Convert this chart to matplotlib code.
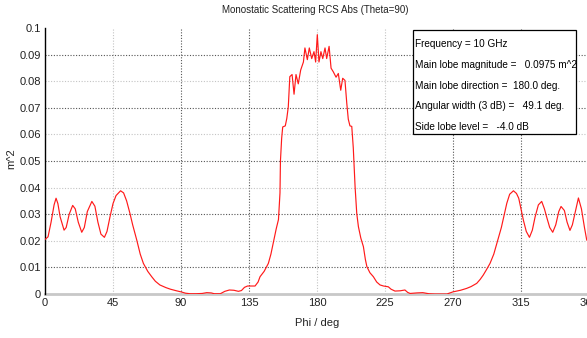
import matplotlib
matplotlib.use('Agg')
import matplotlib.pyplot as plt
from matplotlib.ticker import FuncFormatter

# RCS Abs (Theta=90), phi in deg, value in m^2
phi = [0, 2, 4, 6, 7.3, 8.5, 10, 12.6, 14, 16, 18.3, 20, 22, 24.3, 26, 28, 31, 33, 35, 37,
       39.3, 41, 43, 45, 47, 50, 52, 54, 56.2, 58, 60.7, 63, 65.1, 68, 70.6, 73, 76, 80, 83, 87,
       90, 93, 96, 100, 104, 107, 110, 112, 116, 119, 122, 125, 128, 130, 132, 134, 137, 139, 141, 142.3,
       145, 147.8, 149.5, 151, 153, 154.5, 155.5, 155.8, 156.6, 157.3, 159, 160, 161, 162, 163.5, 164.8, 166.1, 167.6, 169.2, 171,
       172, 173.6, 174.9, 176.5, 178, 179.1, 180.2, 181.3, 182.6, 183.8, 185.3, 186.4, 188, 189.3, 190.8, 192.6, 194.1, 195.7, 197, 198.5,
       199.7, 200.7, 201.8, 203, 204, 205.2, 206.3, 207.4, 209, 210.7, 212, 213, 215, 217.3, 219.5, 221.7, 224, 227.2, 229, 231.6,
       235, 238.2, 240, 241.6, 246, 250, 254, 258, 262, 266, 270, 275, 279, 282, 285.7, 288, 290, 292, 294.5, 297,
       299, 302, 304, 305.6, 307.5, 310, 312, 313.5, 315, 316.6, 318.5, 320.6, 322.5, 324.3, 326.5, 328.7, 330.5, 332, 334, 336,
       338, 340, 341.5, 343.7, 345.5, 347.4, 349, 351, 353, 355, 357, 358.5, 360]
rcs = [0.0205, 0.0215, 0.027, 0.0335, 0.036, 0.034, 0.029, 0.024, 0.025, 0.030, 0.0333, 0.032, 0.027, 0.0232, 0.025, 0.031, 0.0348, 0.033, 0.027, 0.0225,
       0.0213, 0.0235, 0.029, 0.034, 0.037, 0.0388, 0.038, 0.035, 0.0303, 0.026, 0.0203, 0.015, 0.0115, 0.0085, 0.0065, 0.0048, 0.0034, 0.0024, 0.0018, 0.0012,
       0.0008, 0.0003, 0.0001, 0.0001, 0.0002, 0.0005, 0.0004, 0.0001, 0.0001, 0.001, 0.0015, 0.0014, 0.001, 0.0013, 0.0025, 0.003, 0.003, 0.003, 0.0045, 0.0065,
       0.0085, 0.0115, 0.015, 0.019, 0.0245, 0.028, 0.038, 0.05, 0.0585, 0.0628, 0.0632, 0.066, 0.0704, 0.0817, 0.0825, 0.0751, 0.0825, 0.079, 0.0842, 0.0872,
       0.0925, 0.0881, 0.0925, 0.0885, 0.0911, 0.0872, 0.0975, 0.0872, 0.0911, 0.0885, 0.0925, 0.0885, 0.0931, 0.0849, 0.0835, 0.0815, 0.0829, 0.0766, 0.0811, 0.0803,
       0.0717, 0.0657, 0.0632, 0.063, 0.055, 0.0403, 0.0303, 0.0253, 0.021, 0.0178, 0.013, 0.0103, 0.008, 0.0065, 0.0045, 0.0034, 0.003, 0.0027, 0.0018, 0.0011,
       0.0012, 0.0015, 0.0006, 0.0002, 0.0004, 0.0005, 0.0001, 0.0, 0.0, 0.0, 0.0008, 0.0014, 0.0021, 0.0028, 0.004, 0.0055, 0.0071, 0.009, 0.0115, 0.015,
       0.019, 0.025, 0.030, 0.0341, 0.0375, 0.0388, 0.0378, 0.036, 0.032, 0.0277, 0.0235, 0.0213, 0.024, 0.0289, 0.0335, 0.0348, 0.032, 0.0289, 0.025, 0.0232,
       0.026, 0.031, 0.0329, 0.0314, 0.027, 0.0239, 0.026, 0.031, 0.0361, 0.032, 0.025, 0.0203, 0.0195]

x_ticks = [0, 45, 90, 135, 180, 225, 270, 315, 360]
y_ticks = [0, 0.01, 0.02, 0.03, 0.04, 0.05, 0.06, 0.07, 0.08, 0.09, 0.1]
x_dark = [90, 135, 270, 315]
x_light = [45, 180, 225]
y_dark = [0.01, 0.03, 0.05, 0.07, 0.09]
y_light = [0.02, 0.04, 0.06, 0.08]

info = ['Frequency = 10 GHz',
        'Main lobe magnitude =   0.0975 m^2',
        'Main lobe direction =  180.0 deg.',
        'Angular width (3 dB) =   49.1 deg.',
        'Side lobe level =   -4.0 dB']

plt.rcParams['font.family'] = ['Liberation Sans', 'DejaVu Sans']

fig = plt.figure(figsize=(5.87, 3.38), dpi=100)
ax = fig.add_axes([0.0767, 0.1302, 0.9267, 0.787])

for v in x_dark:
    ax.axvline(v, color='#555555', lw=0.8, ls=(0, (1, 1.5)), zorder=1)
for v in x_light:
    ax.axvline(v, color='#c4c4c4', lw=0.8, ls=(0, (1, 1.5)), zorder=1)
for v in y_dark:
    ax.axhline(v, color='#555555', lw=0.8, ls=(0, (1, 1.5)), zorder=1)
for v in y_light:
    ax.axhline(v, color='#c4c4c4', lw=0.8, ls=(0, (1, 1.5)), zorder=1)

ax.plot(phi, rcs, color='#ff1a1a', lw=0.85, zorder=3)

ax.set_xlim(0, 360)
ax.set_ylim(0, 0.1)
ax.set_xticks(x_ticks)
ax.set_yticks(y_ticks)
ax.yaxis.set_major_formatter(FuncFormatter(lambda v, p: ('%.2f' % v).rstrip('0').rstrip('.')))
ax.tick_params(labelsize=8, length=0, pad=3, colors='#222222')

for s in ['top', 'right']:
    ax.spines[s].set_visible(False)
ax.spines['left'].set_color('black')
ax.spines['left'].set_linewidth(1)
ax.spines['bottom'].set_color('#c8c8c8')
ax.spines['bottom'].set_linewidth(2)
ax.spines['bottom'].set_zorder(2)

ax.set_xlabel('Phi / deg', fontsize=8, color='#222222', labelpad=7)
fig.text(0.02, 0.53, 'm^2', rotation=90, fontsize=8, color='#222222', ha='center', va='center')
fig.text(0.537, 0.97, 'Monostatic Scattering RCS Abs (Theta=90)', fontsize=7, color='#222222',
         ha='center', va='center')

# info box
box = plt.Rectangle((412.5 / 587, 1 - 133.5 / 338), 163.5 / 587, 103.5 / 338,
                    transform=fig.transFigure, facecolor='white', edgecolor='black', lw=0.9, zorder=5)
fig.patches.append(box)
for i, line in enumerate(info):
    fig.text(415 / 587, 1 - (44 + i * 20.8) / 338, line, fontsize=7.2, color='black',
             ha='left', va='center', zorder=6)

fig.savefig('out.png', dpi=100)
